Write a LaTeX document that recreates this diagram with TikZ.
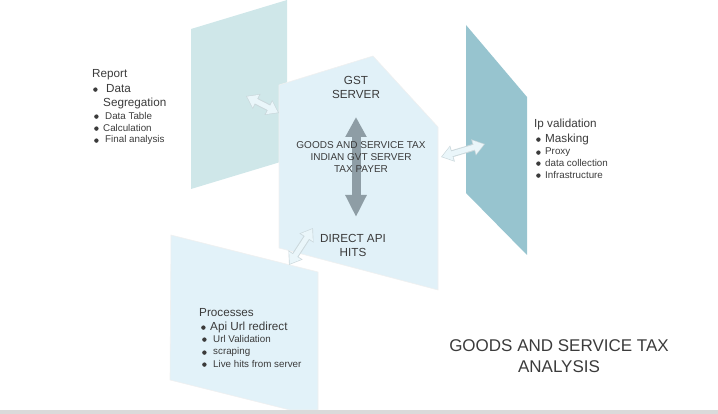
\documentclass[tikz,border=0pt]{standalone}
\usepackage{fontspec}
\setmainfont{Liberation Sans}
\usetikzlibrary{arrows.meta}
\definecolor{txtgray}{HTML}{3B3B3B}
\definecolor{leftpanel}{HTML}{CFE7E9}
\definecolor{midpanel}{HTML}{E1F1F8}
\definecolor{lowpanel}{HTML}{E2F2F9}
\definecolor{rightpanel}{HTML}{97C4CF}
\definecolor{arrowgray}{HTML}{8E9DA5}
\definecolor{linkfill}{HTML}{EAF6FA}
\definecolor{linkline}{HTML}{CBD8DC}
\definecolor{barcolor}{HTML}{DADADA}
\newcommand{\dotitem}[2]{\makebox[#1][l]{}#2}

\begin{document}
\begin{tikzpicture}[x=1pt,y=-1pt]
    \tikzstyle{panel}=[draw=black!6, line width=0.6pt]
    \tikzstyle{lbl}=[anchor=west, inner sep=0pt, text=txtgray, font=\fontsize{11.7}{14}\selectfont]
    \tikzstyle{sub}=[lbl, font=\fontsize{9.8}{12}\selectfont]
    \tikzstyle{head}=[align=center, inner sep=0pt, text=txtgray, font=\fontsize{11.7}{14}\selectfont]
    \tikzstyle{linkout}=[line width=7pt, draw=linkline, {Triangle[width=16pt,length=12pt]}-{Triangle[width=16pt,length=12pt]}]
    \tikzstyle{linkin}=[line width=5pt, draw=linkfill, shorten <=1.2pt, shorten >=1.2pt, {Triangle[width=13.5pt,length=10pt]}-{Triangle[width=13.5pt,length=10pt]}]

\useasboundingbox (0,0) rectangle (718,414);

% panels
\fill[leftpanel] (191,29) -- (287,0) -- (287,160) -- (191,189) -- cycle;
\fill[rightpanel] (466,25) -- (527,97) -- (527,255) -- (466,193) -- cycle;
\filldraw[panel, fill=midpanel] (279,85) -- (373,56) -- (438,127) -- (438,290) -- (279,248) -- cycle;
\filldraw[panel, fill=lowpanel] (171,235) -- (318,272) -- (318,410) -- (290,410) -- (170,380) -- cycle;
\fill[barcolor] (0,410) rectangle (718,414);

% links between panels
\coordinate (a1) at (246,96);
\coordinate (a2) at (279,113);
\coordinate (b1) at (441,157);
\coordinate (b2) at (485,144);
\coordinate (c1) at (289,265);
\coordinate (c2) at (313,228);
\foreach \s/\e in {a1/a2, b1/b2, c1/c2}{
\draw[linkout] (\s) -- (\e);
\draw[linkin] (\s) -- (\e);
};

\coordinate (g1) at (356,117);
\coordinate (g2) at (356,217);
\draw[line width=9pt, draw=arrowgray, {Triangle[width=20pt,length=20pt]}-{Triangle[width=20pt,length=22pt]}] (g1) -- (g2);

% centre texts
\node[head] (gst) at (356,87) {GST\\SERVER};
\node[head, font=\fontsize{10}{12}\selectfont] (gov) at (361,157) {GOODS AND SERVICE TAX\\INDIAN GVT SERVER\\TAX PAYER};
\node[head] (api) at (353,245) {DIRECT API\\HITS};
\node[head, font=\fontsize{17}{21}\selectfont] (title) at (559,356) {GOODS AND SERVICE TAX\\ANALYSIS};

% report list
\node[lbl] (rep) at (92,75) {Report};
\node[lbl] (seg) at (93,89) {\dotitem{13pt}{Data}};
\node[lbl] (seg2) at (103,103) {Segregation};
\node[sub] (tab) at (94,116) {\dotitem{11pt}{Data Table}};
\node[sub] (calc) at (94,128) {\dotitem{9pt}{Calculation}};
\node[sub] (fin) at (94,140) {\dotitem{11pt}{Final analysis}};

% ip list
\node[lbl] (ipv) at (534,124) {Ip validation};
\node[lbl] (mask) at (536,139) {\dotitem{9pt}{Masking}};
\node[sub] (prx) at (536,152) {\dotitem{9pt}{Proxy}};
\node[sub] (dat) at (536,163) {\dotitem{9pt}{data collection}};
\node[sub] (inf) at (536,175) {\dotitem{9pt}{Infrastructure}};

% processes list
\node[lbl] (proc) at (199,313) {Processes};
\node[lbl] (url) at (201,327) {\dotitem{9pt}{Api Url redirect}};
\node[sub] (val) at (202,339) {\dotitem{11pt}{Url Validation}};
\node[sub] (scr) at (202,352) {\dotitem{11pt}{scraping}};
\node[sub] (live) at (202,364) {\dotitem{11pt}{Live hits from server}};

% bullets
\foreach \n in {seg,tab,calc,fin,mask,prx,dat,inf,url,val,scr,live}
\fill[txtgray] ([xshift=2.4pt,yshift=-0.6pt]\n.west) circle (2.2pt);
\end{tikzpicture}
\end{document}
